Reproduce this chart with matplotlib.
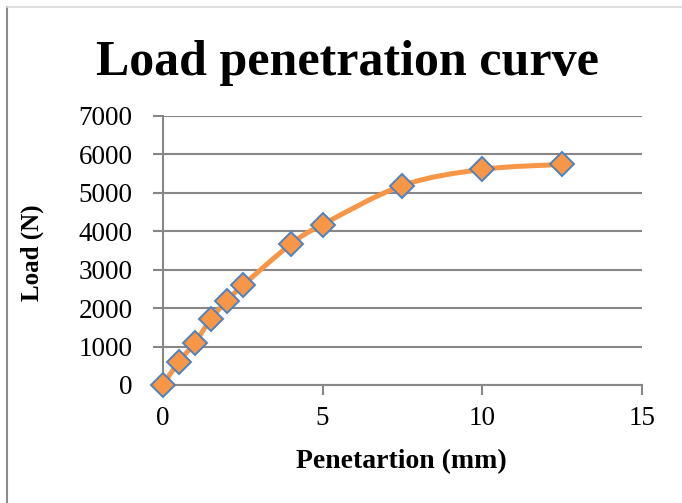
import numpy as np
import matplotlib.pyplot as plt
from matplotlib.path import Path
from matplotlib.patches import PathPatch
from matplotlib.lines import Line2D

# penetration (mm) vs load (N)
penetration = [0, 0.5, 1, 1.5, 2, 2.5, 4, 5, 7.5, 10, 12.5]
load = [0, 610, 1100, 1720, 2190, 2590, 3660, 4175, 5190, 5610, 5740]

orange = '#F79646'
blue = '#4F81BD'
grid_grey = '#878787'


def smooth_path(xs, ys):
    # Excel-style smoothed line: cubic Bezier through each point,
    # control points from neighbouring points
    pts = np.column_stack([xs, ys]).astype(float)
    n = len(pts)
    verts = [pts[0]]
    codes = [Path.MOVETO]
    for i in range(n - 1):
        p0 = pts[i - 1] if i > 0 else pts[i]
        p1 = pts[i]
        p2 = pts[i + 1]
        p3 = pts[i + 2] if i + 2 < n else pts[i + 1]
        c1 = p1 + (p2 - p0) / 6.0
        c2 = p2 - (p3 - p1) / 6.0
        verts += [c1, c2, p2]
        codes += [Path.CURVE4] * 3
    return Path(verts, codes)


fig = plt.figure(figsize=(6.82, 5.03), dpi=100)
ax = fig.add_axes([0.239, 0.2346, 0.702, 0.5348])

serif = ['Liberation Serif', 'DejaVu Serif']

ax.add_patch(PathPatch(smooth_path(penetration, load), facecolor='none',
                       edgecolor=orange, lw=3.6, capstyle='round', zorder=3))
ax.plot(penetration, load, ls='none', marker='D', ms=12, mfc=orange,
        mec=blue, mew=1.4, zorder=4, clip_on=False)

ax.set_xlim(0, 15)
ax.set_ylim(0, 7000)
ax.set_xticks([0, 5, 10, 15])
ax.set_yticks(range(0, 7001, 1000))
ax.yaxis.grid(True, color=grid_grey, lw=1.5)
ax.set_axisbelow(True)

for side in ['top', 'right']:
    ax.spines[side].set_visible(False)
for side in ['left', 'bottom']:
    ax.spines[side].set_color(grid_grey)
    ax.spines[side].set_linewidth(1.5)

ax.tick_params(axis='both', direction='out', length=7, width=1.5,
               color=grid_grey, labelsize=19.5)
ax.tick_params(axis='x', pad=8)
ax.tick_params(axis='y', pad=15)
for lbl in ax.get_xticklabels() + ax.get_yticklabels():
    lbl.set_family(serif)

fig.text(0.51, 0.875, 'Load penetration curve', ha='center', va='center',
         fontsize=36, fontweight='bold', family=serif)
fig.text(0.047, 0.497, 'Load (N)', rotation=90, ha='center', va='center',
         fontsize=18, fontweight='bold', family=serif)
fig.text(0.589, 0.083, 'Penetartion (mm)', ha='center', va='center',
         fontsize=20, fontweight='bold', family=serif)

# chart area border
fig.add_artist(Line2D([0.0103, 0.0103], [0, 0.986], color='#8c8c8c', lw=1.5,
                      transform=fig.transFigure))
fig.add_artist(Line2D([0.0103, 1], [0.986, 0.986], color='#d9d9d9', lw=1.2,
                      transform=fig.transFigure))

fig.savefig('out.png', dpi=100)
